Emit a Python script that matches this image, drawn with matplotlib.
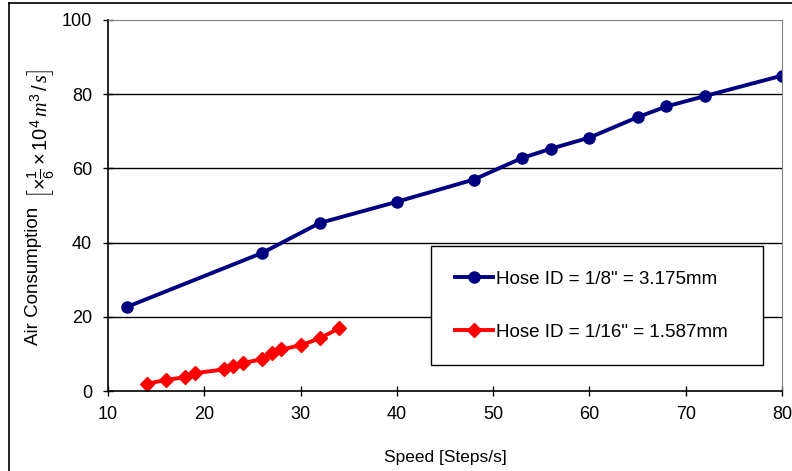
import matplotlib
matplotlib.use("Agg")
import matplotlib.pyplot as plt
from matplotlib.lines import Line2D

plt.rcParams['font.family'] = ['Liberation Sans', 'DejaVu Sans']
plt.rcParams['mathtext.fontset'] = 'custom'
plt.rcParams['mathtext.rm'] = 'Liberation Sans'
plt.rcParams['mathtext.it'] = 'Liberation Serif:italic'

# data
speed_big = [12, 26, 32, 40, 48, 53, 56, 60, 65, 68, 72, 80]
air_big = [22.7, 37.2, 45.3, 51.0, 57.0, 62.8, 65.3, 68.3, 73.8, 76.7, 79.5, 85.0]

speed_small = [14, 16, 18, 19, 22, 23, 24, 26, 27, 28, 30, 32, 34]
air_small = [1.9, 3.0, 3.7, 4.8, 5.8, 6.7, 7.6, 8.5, 10.3, 11.2, 12.3, 14.2, 16.9]

label_big = 'Hose ID = 1/8" = 3.175mm'
label_small = 'Hose ID = 1/16" = 1.587mm'

fig = plt.figure(figsize=(7.92, 4.71), dpi=100)
ax = fig.add_axes([108 / 792, 1 - 391 / 471, 674 / 792, 371 / 471])

ax.plot(speed_big, air_big, color='#000080', lw=2.8, marker='o', ms=8,
        label=label_big)
ax.plot(speed_small, air_small, color='#ff0000', lw=2.8, marker='D', ms=7,
        label=label_small)

ax.set_xlim(10, 80)
ax.set_ylim(0, 100)
ax.set_xticks(range(10, 81, 10))
ax.set_yticks(range(0, 101, 20))
ax.tick_params(direction='inout', length=7, width=1, labelsize=13,
               colors='black', pad=8)
ax.tick_params(axis='x', pad=7)

for y in [20, 40, 60, 80]:
    ax.axhline(y, color='black', lw=1, zorder=0)

ax.spines['top'].set_color('#808080')
ax.spines['right'].set_color('#808080')
ax.spines['left'].set_linewidth(1.2)
ax.spines['bottom'].set_linewidth(1.2)

ax.set_xlabel('Speed [Steps/s]', fontsize=12.5, labelpad=20)

# y label: plain words plus a bracketed unit
fig.text(33 / 792, 1 - 276 / 471, 'Air Consumption', rotation=90,
         ha='center', va='center', fontsize=13.5)
fig.text(40 / 792, 1 - 134 / 471,
         r'$\left[\times\frac{1}{6}\times10^{4}\,\mathit{m}^{3}\,/\,\mathit{s}\right]$',
         rotation=90, ha='center', va='center', fontsize=14.5)

leg = ax.legend(loc='lower left', bbox_to_anchor=(0.479, 0.07, 0.493, 0.313),
                mode='expand', fontsize=13.5, frameon=True, fancybox=False,
                edgecolor='black', framealpha=1, labelspacing=1.9,
                borderpad=1.3, handlelength=2.0, handletextpad=0.2,
                borderaxespad=0)
leg.get_frame().set_linewidth(1)

# outer frame of the picture
fig.add_artist(Line2D([9 / 792, 9 / 792], [0, 1 - 3 / 471], color='black', lw=1.2))
fig.add_artist(Line2D([9 / 792, 1], [1 - 3 / 471, 1 - 3 / 471], color='black', lw=1.2))

fig.savefig('out.png', dpi=100)
